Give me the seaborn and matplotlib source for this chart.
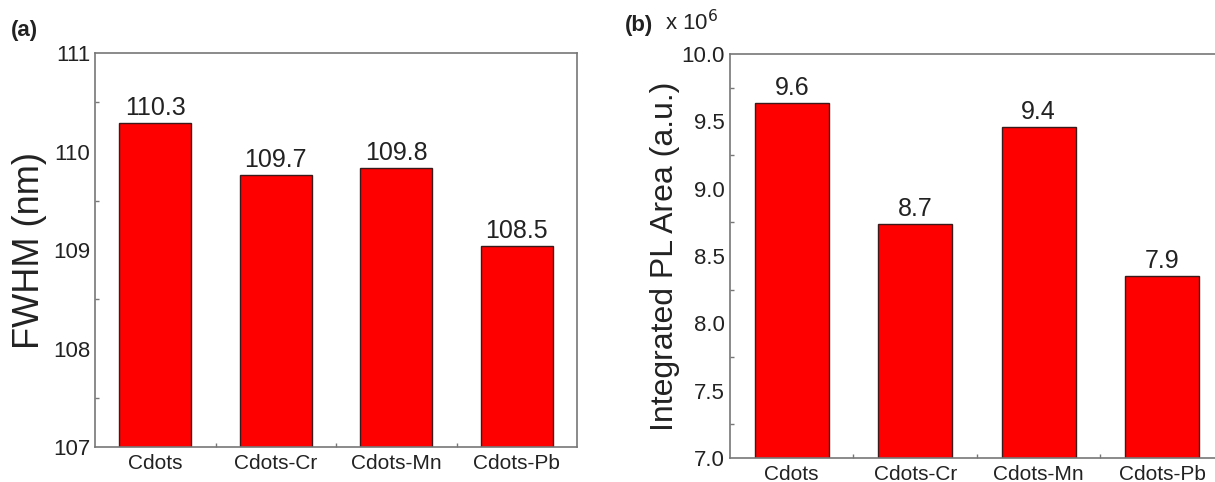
import numpy as np
import matplotlib
matplotlib.use("Agg")
import matplotlib.pyplot as plt
import seaborn as sns
import pandas as pd
from matplotlib.ticker import MultipleLocator, AutoMinorLocator

# data (bar heights as drawn, labels as printed)
samples = ["Cdots", "Cdots-Cr", "Cdots-Mn", "Cdots-Pb"]
fwhm = [110.29, 109.76, 109.83, 109.04]
fwhm_labels = ["110.3", "109.7", "109.8", "108.5"]
pl_area = [9.64, 8.74, 9.46, 8.35]  # x 10^6
pl_labels = ["9.6", "8.7", "9.4", "7.9"]

sns.set_theme(style="white")
plt.rcParams["font.family"] = ["Liberation Sans", "DejaVu Sans"]

BAR = "#ff0000"
EDGE = "#3a1a1a"
FRAME = "#777777"
TXT = "#222222"


def style_axes(ax):
    for s in ax.spines.values():
        s.set_color(FRAME)
        s.set_linewidth(1.2)
    ax.tick_params(axis="both", direction="in", colors=FRAME, labelcolor=TXT,
                   labelsize=16, length=5, width=1.0)
    ax.tick_params(axis="y", which="minor", direction="in", length=3, width=1.0,
                   colors=FRAME, left=True)
    ax.tick_params(axis="x", which="minor", direction="in", length=3, width=1.0,
                   colors=FRAME, bottom=True)
    ax.xaxis.set_minor_locator(matplotlib.ticker.FixedLocator([0.5, 1.5, 2.5]))
    ax.tick_params(axis="x", labelsize=15, pad=5)
    ax.set_xlim(-0.5, 3.5)
    ax.set_xlabel("")


fig = plt.figure(figsize=(12.15, 4.82), dpi=100)
ax1 = fig.add_axes([0.0782, 0.0726, 0.3967, 0.8174])
ax2 = fig.add_axes([0.6008, 0.0498, 0.4066, 0.8380])

# (a) FWHM
df1 = pd.DataFrame({"sample": samples, "fwhm": fwhm})
sns.barplot(data=df1, x="sample", y="fwhm", color=BAR, width=0.6,
            edgecolor=EDGE, linewidth=1.0, saturation=1, ax=ax1)
ax1.set_ylim(107, 111)
ax1.yaxis.set_major_locator(MultipleLocator(1))
ax1.yaxis.set_minor_locator(AutoMinorLocator(2))
style_axes(ax1)
ax1.bar_label(ax1.containers[0], labels=fwhm_labels, padding=2, fontsize=18, color=TXT)
ax1.set_ylabel("FWHM (nm)", fontsize=26, color=TXT)
ax1.yaxis.set_label_coords(-0.1, 0.5)

# (b) integrated PL area, panel runs off the right edge like the original crop
df2 = pd.DataFrame({"sample": samples, "area": pl_area})
sns.barplot(data=df2, x="sample", y="area", color=BAR, width=0.6,
            edgecolor=EDGE, linewidth=1.0, saturation=1, ax=ax2)
ax2.set_ylim(7.0, 10.0)
ax2.yaxis.set_major_locator(MultipleLocator(0.5))
ax2.yaxis.set_major_formatter(matplotlib.ticker.FormatStrFormatter("%.1f"))
ax2.yaxis.set_minor_locator(AutoMinorLocator(2))
style_axes(ax2)
ax2.spines["right"].set_visible(False)
ax2.bar_label(ax2.containers[0], labels=pl_labels, padding=2, fontsize=18, color=TXT)
ax2.set_ylabel("Integrated PL Area (a.u.)", fontsize=23, color=TXT)
ax2.yaxis.set_label_coords(-0.101, 0.5)

fig.text(0.009, 0.925, "(a)", fontsize=16, fontweight="bold", color=TXT)
fig.text(0.514, 0.935, "(b)", fontsize=16, fontweight="bold", color=TXT)
fig.text(0.547, 0.937, r"x 10$^{6}$", fontsize=16, color=TXT)

fig.savefig("out.png", dpi=100)
